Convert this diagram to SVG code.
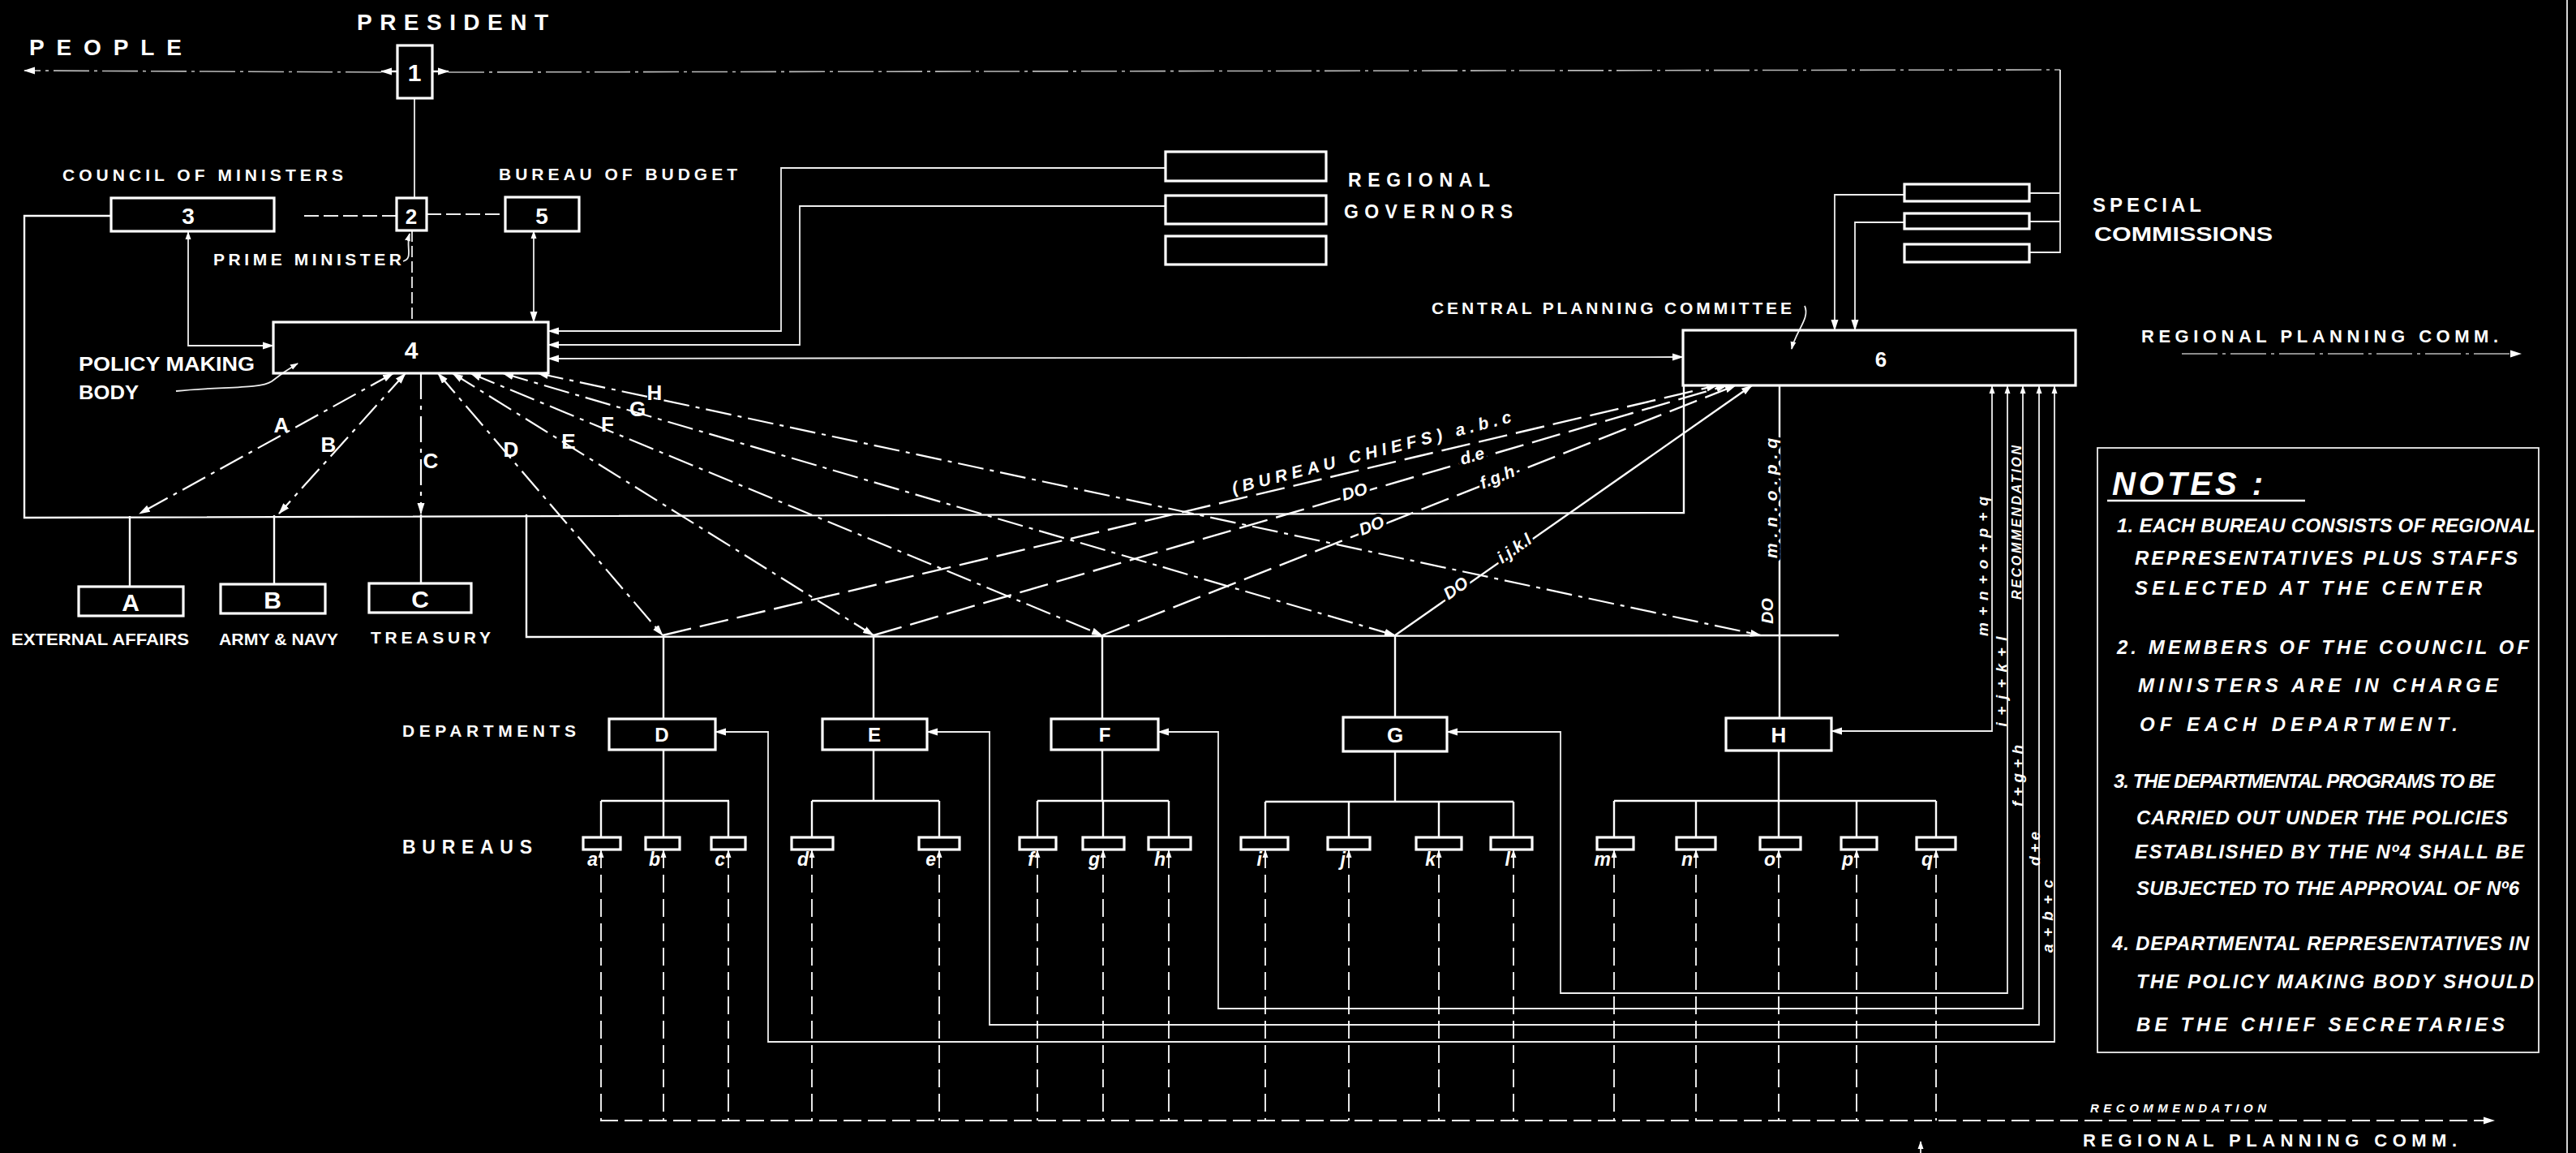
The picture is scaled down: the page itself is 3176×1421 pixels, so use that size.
<svg xmlns="http://www.w3.org/2000/svg" width="3176" height="1421" viewBox="0 0 3176 1421">
<defs>
<style>
.bx{fill:none;stroke:#fff;stroke-width:3.2}
.ln{fill:none;stroke:#fff;stroke-width:2.4}
.th{fill:none;stroke:#eee;stroke-width:1.8}
.fd{fill:none;stroke:#bbb;stroke-width:1.6;stroke-dasharray:44 6 4 6}
.dd{fill:none;stroke:#fff;stroke-width:2.2;stroke-dasharray:32 8 5 8}
.ds{fill:none;stroke:#fff;stroke-width:2.4;stroke-dasharray:36 11}
.vd{fill:none;stroke:#fff;stroke-width:1.8;stroke-dasharray:22 8}
.t{font-family:"Liberation Sans",Arial,sans-serif;fill:#fff;font-weight:bold}
.i{font-family:"Liberation Sans",Arial,sans-serif;fill:#fff;font-style:italic;font-weight:bold}
.hl{paint-order:stroke;stroke:#000;stroke-width:8px;stroke-linejoin:round}
</style>
<marker id="ah" viewBox="0 0 14 10" refX="13" refY="5" markerWidth="14" markerHeight="10" markerUnits="userSpaceOnUse" orient="auto-start-reverse"><path d="M0,0.5 L14,5 L0,9.5 z" fill="#fff"/></marker>
<marker id="as" viewBox="0 0 10 8" refX="9" refY="4" markerWidth="10" markerHeight="8" markerUnits="userSpaceOnUse" orient="auto-start-reverse"><path d="M0,0.5 L10,4 L0,7.5 z" fill="#fff"/></marker>
</defs>
<rect x="0" y="0" width="3176" height="1421" fill="#000"/>

<g id="connectors">
<path class="ln" d="M490,88 L470,88" marker-end="url(#ah)"/>
<path class="fd" d="M470,89 L30,87" marker-end="url(#ah)"/>
<path class="ln" d="M533,88 L553,88" marker-end="url(#ah)"/>
<path class="fd" d="M553,89 L2540,86"/>
<path class="th" d="M2540,86 V311 H2502 M2502,238 H2540 M2502,273 H2540"/>
<path class="th" d="M2348,240 H2262 V407" marker-end="url(#ah)"/>
<path class="th" d="M2348,274 H2287 V407" marker-end="url(#ah)"/>
<path class="th" d="M511,121 V244"/>
<path class="th" d="M508,284 V397" stroke-dasharray="14 5"/>
<path class="th" d="M375,266 H489" stroke-dasharray="18 6"/>
<path class="th" d="M526,264 H623" stroke-dasharray="18 6"/>
<path class="th" d="M232,286 V426 H337" marker-start="url(#as)" marker-end="url(#ah)"/>
<path class="th" d="M658,285 V397" marker-start="url(#as)" marker-end="url(#ah)"/>
<path class="ln" d="M137,266 H30 V638 L2076,632 V475"/>
<path class="ln" d="M160,636 V723 M338,635 V720 M519,634 V719"/>
<path class="ln" d="M649,634 V785 L2267,783"/>
<path class="ln" d="M818,785 V886 M1077,784 V886 M1359,784 V886 M1720,784 V884 M2194,475 V885"/>
<path class="dd" d="M485,460 L172,633" marker-start="url(#ah)" marker-end="url(#ah)"/>
<path class="dd" d="M500,460 L344,633" marker-start="url(#ah)" marker-end="url(#ah)"/>
<path class="dd" d="M519,460 L519,633" marker-end="url(#ah)"/>
<path class="dd" d="M540,460 L817,783" marker-start="url(#ah)" marker-end="url(#ah)"/>
<path class="dd" d="M558,460 L1077,783" marker-start="url(#ah)" marker-end="url(#ah)"/>
<path class="dd" d="M580,460 L1359,783" marker-start="url(#ah)" marker-end="url(#ah)"/>
<path class="dd" d="M620,460 L1720,783" marker-start="url(#ah)" marker-end="url(#ah)"/>
<path class="dd" d="M663,460 L2171,783" marker-start="url(#ah)" marker-end="url(#ah)"/>
<path class="ds" d="M817,783 L2117,475" marker-end="url(#ah)"/>
<path class="ds" d="M1077,783 L2129,475" marker-end="url(#ah)"/>
<path class="ds" d="M1359,783 L2140,475" marker-end="url(#ah)"/>
<path class="ln" d="M1720,783 L2160,475" marker-end="url(#ah)"/>
<path class="th" d="M676,408 H963 V207 H1437" marker-start="url(#ah)"/>
<path class="th" d="M676,425 H986 V254 H1437" marker-start="url(#ah)"/>
<path class="th" d="M676,442 L2075,440" marker-start="url(#ah)" marker-end="url(#ah)"/>
<path class="th" d="M882,902 H947 V1284 H2533 V476" marker-start="url(#ah)" marker-end="url(#as)"/>
<path class="th" d="M1143,902 H1220 V1263 H2514 V476" marker-start="url(#ah)" marker-end="url(#as)"/>
<path class="th" d="M1428,902 H1502 V1243 H2494 V476" marker-start="url(#ah)" marker-end="url(#as)"/>
<path class="th" d="M1784,902 H1924 V1224 H2475 V476" marker-start="url(#ah)" marker-end="url(#as)"/>
<path class="th" d="M2258,901 H2456 V476" marker-start="url(#ah)" marker-end="url(#as)"/>
<path class="ln" d="M818,924 V987 M741,987 H899 M741,987 V1032 M818,987 V1032 M898,987 V1032"/>
<path class="ln" d="M1077,924 V987 M1001,987 H1158 M1001,987 V1032 M1158,987 V1032"/>
<path class="ln" d="M1359,924 V987 M1279,987 H1441 M1279,987 V1032 M1360,987 V1032 M1441,987 V1032"/>
<path class="ln" d="M1720,926 V988 M1560,988 H1866 M1560,988 V1032 M1663,988 V1032 M1774,988 V1032 M1866,988 V1032"/>
<path class="ln" d="M2193,925 V987 M1990,987 H2387 M1990,987 V1032 M2091,987 V1032 M2193,987 V1032 M2289,987 V1032 M2387,987 V1032"/>
<g class="vd" marker-start="url(#as)">
<path d="M741,1048 V1381"/><path d="M818,1048 V1381"/><path d="M898,1048 V1381"/>
<path d="M1001,1048 V1381"/><path d="M1158,1048 V1381"/>
<path d="M1279,1048 V1381"/><path d="M1360,1048 V1381"/><path d="M1441,1048 V1381"/>
<path d="M1560,1048 V1381"/><path d="M1663,1048 V1381"/><path d="M1774,1048 V1381"/><path d="M1866,1048 V1381"/>
<path d="M1990,1048 V1381"/><path d="M2091,1048 V1381"/><path d="M2193,1048 V1381"/><path d="M2289,1048 V1381"/><path d="M2387,1048 V1381"/>
</g>
<path class="vd" d="M740,1381 H3075" stroke-width="2.2" marker-end="url(#ah)"/>
<path class="th" d="M2368,1421 V1407" marker-end="url(#as)"/>
<path class="th" d="M2225,377 C2232,392 2214,408 2209,430" marker-end="url(#as)"/>
<path class="th" d="M217,482 C270,476 320,480 335,470 C345,462 355,455 367,448" marker-end="url(#as)"/>
<path class="th" d="M497,322 C510,318 500,305 505,288" marker-end="url(#as)"/>
<path class="fd" d="M2690,436 H3108" marker-end="url(#ah)"/>
<path class="th" d="M3165,0 V1421"/>
</g>

<g id="n-president"><rect class="bx" x="490" y="56" width="43" height="65"/><text class="t" x="511" y="100" font-size="30" text-anchor="middle">1</text><text class="t" x="440" y="37" font-size="28" textLength="236" lengthAdjust="spacing">PRESIDENT</text></g>
<g id="n-people"><text class="t" x="36" y="68" font-size="28" textLength="188" lengthAdjust="spacing">PEOPLE</text></g>
<g id="n-pm"><rect class="bx" x="489" y="244" width="37" height="40"/><text class="t" x="507" y="276" font-size="26" text-anchor="middle">2</text><text class="t" x="263" y="327" font-size="21" textLength="232" lengthAdjust="spacing">PRIME MINISTER</text></g>
<g id="n-council"><rect class="bx" x="137" y="244" width="201" height="41"/><text class="t" x="232" y="276" font-size="28" text-anchor="middle">3</text><text class="t" x="77" y="223" font-size="21" textLength="346" lengthAdjust="spacing">COUNCIL OF MINISTERS</text></g>
<g id="n-budget"><rect class="bx" x="623" y="243" width="91" height="42"/><text class="t" x="668" y="276" font-size="28" text-anchor="middle">5</text><text class="t" x="615" y="222" font-size="21" textLength="294" lengthAdjust="spacing">BUREAU OF BUDGET</text></g>
<g id="n-policy"><rect class="bx" x="337" y="397" width="339" height="63"/><text class="t" x="507" y="442" font-size="30" text-anchor="middle">4</text><text class="t" x="97" y="457" font-size="23" textLength="217" lengthAdjust="spacingAndGlyphs">POLICY MAKING</text><text class="t" x="97" y="492" font-size="23" textLength="74" lengthAdjust="spacingAndGlyphs">BODY</text></g>
<g id="n-governors"><rect class="bx" x="1437" y="187" width="198" height="36"/><rect class="bx" x="1437" y="241" width="198" height="35"/><rect class="bx" x="1437" y="291" width="198" height="35"/><text class="t" x="1662" y="230" font-size="23" textLength="175" lengthAdjust="spacing">REGIONAL</text><text class="t" x="1657" y="269" font-size="23" textLength="208" lengthAdjust="spacing">GOVERNORS</text></g>
<g id="n-special"><rect class="bx" x="2348" y="227" width="154" height="21"/><rect class="bx" x="2348" y="263" width="154" height="19"/><rect class="bx" x="2348" y="301" width="154" height="22"/><text class="t" x="2580" y="261" font-size="24" textLength="134" lengthAdjust="spacing">SPECIAL</text><text class="t" x="2582" y="297" font-size="24" textLength="220" lengthAdjust="spacingAndGlyphs">COMMISSIONS</text></g>
<g id="n-central"><rect class="bx" x="2075" y="407" width="484" height="68"/><text class="t" x="2319" y="452" font-size="26" text-anchor="middle">6</text><text class="t" x="1765" y="387" font-size="21" textLength="444" lengthAdjust="spacing">CENTRAL PLANNING COMMITTEE</text></g>
<g id="n-rpc-top"><text class="t" x="2640" y="422" font-size="22" textLength="440" lengthAdjust="spacing">REGIONAL PLANNING COMM.</text></g>
<g id="n-A"><rect class="bx" x="97" y="723" width="129" height="36"/><text class="t" x="161" y="753" font-size="30" text-anchor="middle">A</text><text class="t" x="14" y="795" font-size="21" textLength="219" lengthAdjust="spacingAndGlyphs">EXTERNAL AFFAIRS</text></g>
<g id="n-B"><rect class="bx" x="272" y="720" width="129" height="36"/><text class="t" x="336" y="750" font-size="30" text-anchor="middle">B</text><text class="t" x="270" y="795" font-size="21" textLength="147" lengthAdjust="spacingAndGlyphs">ARMY &amp; NAVY</text></g>
<g id="n-C"><rect class="bx" x="455" y="719" width="126" height="36"/><text class="t" x="518" y="749" font-size="30" text-anchor="middle">C</text><text class="t" x="457" y="793" font-size="21" textLength="148" lengthAdjust="spacing">TREASURY</text></g>
<g id="ray-labels"><text class="t" x="347" y="533" font-size="26" text-anchor="middle">A</text><text class="t" x="405" y="557" font-size="26" text-anchor="middle">B</text><text class="t" x="531" y="577" font-size="26" text-anchor="middle">C</text><text class="t" x="630" y="563" font-size="26" text-anchor="middle">D</text><text class="t" x="701" y="553" font-size="26" text-anchor="middle">E</text><text class="t" x="749" y="532" font-size="26" text-anchor="middle">F</text><text class="t" x="786" y="513" font-size="26" text-anchor="middle">G</text><text class="t" x="807" y="493" font-size="26" text-anchor="middle">H</text></g>
<g id="line-labels">
<text class="i" font-size="21" transform="translate(1521,609) rotate(-14.5)" textLength="355" lengthAdjust="spacing">(BUREAU CHIEFS) a.b.c</text>
<g transform="translate(1670,606) rotate(-16.3)"><text class="i hl" x="0" y="7" font-size="21" text-anchor="middle">DO</text></g>
<g transform="translate(1815,562) rotate(-16.3)"><text class="i hl" x="0" y="7" font-size="21" text-anchor="middle">d.e</text></g>
<g transform="translate(1691,648) rotate(-21.5)"><text class="i hl" x="0" y="7" font-size="21" text-anchor="middle">DO</text></g>
<g transform="translate(1846,588) rotate(-21.5)"><text class="i hl" x="0" y="7" font-size="21" text-anchor="middle">f.g.h</text></g>
<g transform="translate(1795,725) rotate(-35)"><text class="i hl" x="0" y="7" font-size="21" text-anchor="middle">DO</text></g>
<g transform="translate(1867,676) rotate(-35)"><text class="i hl" x="0" y="7" font-size="21" text-anchor="middle">i.j.k.l</text></g>
<g transform="translate(2184,614) rotate(-90)"><text class="i hl" x="0" y="7" font-size="21" text-anchor="middle" textLength="148" lengthAdjust="spacing">m.n.o.p.q</text></g>
<g transform="translate(2179,753) rotate(-90)"><text class="i" x="0" y="7" font-size="21" text-anchor="middle">DO</text></g>
<g transform="translate(2444,698) rotate(-90)"><text class="i" x="0" y="7" font-size="19" text-anchor="middle" textLength="172" lengthAdjust="spacing">m+n+o+p+q</text></g>
<g transform="translate(2467,840) rotate(-90)"><text class="i" x="0" y="7" font-size="19" text-anchor="middle" textLength="111" lengthAdjust="spacing">i+j+k+l</text></g>
<g transform="translate(2486,644) rotate(-90)"><text class="i" x="0" y="6" font-size="16" text-anchor="middle" textLength="190" lengthAdjust="spacing">RECOMMENDATION</text></g>
<g transform="translate(2487,956) rotate(-90)"><text class="i" x="0" y="7" font-size="19" text-anchor="middle" textLength="76" lengthAdjust="spacing">f+g+h</text></g>
<g transform="translate(2508,1046) rotate(-90)"><text class="i" x="0" y="7" font-size="19" text-anchor="middle" textLength="42" lengthAdjust="spacing">d+e</text></g>
<g transform="translate(2524,1129) rotate(-90)"><text class="i" x="0" y="7" font-size="19" text-anchor="middle" textLength="90" lengthAdjust="spacing">a+b+c</text></g>
</g>
<g id="n-D"><rect class="bx" x="751" y="886" width="131" height="38"/><text class="t" x="816" y="914" font-size="24" text-anchor="middle">D</text></g>
<g id="n-E"><rect class="bx" x="1014" y="886" width="129" height="38"/><text class="t" x="1078" y="914" font-size="24" text-anchor="middle">E</text></g>
<g id="n-F"><rect class="bx" x="1296" y="886" width="132" height="38"/><text class="t" x="1362" y="914" font-size="24" text-anchor="middle">F</text></g>
<g id="n-G"><rect class="bx" x="1656" y="884" width="128" height="42"/><text class="t" x="1720" y="915" font-size="26" text-anchor="middle">G</text></g>
<g id="n-H"><rect class="bx" x="2128" y="885" width="130" height="40"/><text class="t" x="2193" y="915" font-size="26" text-anchor="middle">H</text></g>
<g id="row-labels"><text class="t" x="496" y="908" font-size="21" textLength="214" lengthAdjust="spacing">DEPARTMENTS</text><text class="t" x="496" y="1052" font-size="23" textLength="160" lengthAdjust="spacing">BUREAUS</text></g>
<g id="bureaus">
<rect class="bx" x="719" y="1032" width="46" height="15"/><rect class="bx" x="796" y="1032" width="42" height="15"/><rect class="bx" x="877" y="1032" width="42" height="15"/>
<rect class="bx" x="976" y="1032" width="51" height="15"/><rect class="bx" x="1133" y="1032" width="50" height="15"/>
<rect class="bx" x="1257" y="1032" width="45" height="15"/><rect class="bx" x="1335" y="1032" width="51" height="15"/><rect class="bx" x="1416" y="1032" width="52" height="15"/>
<rect class="bx" x="1530" y="1032" width="58" height="15"/><rect class="bx" x="1637" y="1032" width="52" height="15"/><rect class="bx" x="1746" y="1032" width="56" height="15"/><rect class="bx" x="1838" y="1032" width="51" height="15"/>
<rect class="bx" x="1969" y="1032" width="45" height="15"/><rect class="bx" x="2067" y="1032" width="48" height="15"/><rect class="bx" x="2170" y="1032" width="50" height="15"/><rect class="bx" x="2270" y="1032" width="44" height="15"/><rect class="bx" x="2363" y="1032" width="48" height="15"/>
<g class="i" font-size="23" text-anchor="end">
<text x="737" y="1067">a</text><text x="814" y="1067">b</text><text x="894" y="1067">c</text><text x="997" y="1067">d</text><text x="1154" y="1067">e</text><text x="1275" y="1067">f</text><text x="1356" y="1067">g</text><text x="1437" y="1067">h</text><text x="1556" y="1067">i</text><text x="1659" y="1067">j</text><text x="1770" y="1067">k</text><text x="1862" y="1067">l</text><text x="1986" y="1067">m</text><text x="2087" y="1067">n</text><text x="2189" y="1067">o</text><text x="2285" y="1067">p</text><text x="2383" y="1067">q</text>
</g>
</g>
<g id="n-rpc-bottom"><text class="i" x="2577" y="1371" font-size="15" textLength="217" lengthAdjust="spacing">RECOMMENDATION</text><text class="t" x="2568" y="1413" font-size="22" textLength="461" lengthAdjust="spacing">REGIONAL PLANNING COMM.</text></g>
<g id="notes">
<rect class="th" x="2586" y="552" width="544" height="745"/>
<text class="i" x="2604" y="610" font-size="40" textLength="186" lengthAdjust="spacing" font-weight="normal">NOTES :</text>
<path class="ln" d="M2598,617 H2842"/>
<g class="i" font-size="24" lengthAdjust="spacing">
<text x="2610" y="656" textLength="516">1. EACH BUREAU CONSISTS OF REGIONAL</text>
<text x="2632" y="696" textLength="472">REPRESENTATIVES PLUS STAFFS</text>
<text x="2632" y="733" textLength="428">SELECTED AT THE CENTER</text>
<text x="2610" y="806" textLength="508">2. MEMBERS OF THE COUNCIL OF</text>
<text x="2636" y="853" textLength="444">MINISTERS ARE IN CHARGE</text>
<text x="2638" y="901" textLength="392">OF EACH DEPARTMENT.</text>
<text x="2606" y="971" textLength="470">3. THE DEPARTMENTAL PROGRAMS TO BE</text>
<text x="2634" y="1016" textLength="458">CARRIED OUT UNDER THE POLICIES</text>
<text x="2632" y="1058" textLength="480">ESTABLISHED BY THE Nº4 SHALL BE</text>
<text x="2634" y="1103" textLength="472">SUBJECTED TO THE APPROVAL OF Nº6</text>
<text x="2604" y="1171" textLength="514">4. DEPARTMENTAL REPRESENTATIVES IN</text>
<text x="2634" y="1218" textLength="490">THE POLICY MAKING BODY SHOULD</text>
<text x="2634" y="1271" textLength="454">BE THE CHIEF SECRETARIES</text>
</g>
</g>
</svg>
